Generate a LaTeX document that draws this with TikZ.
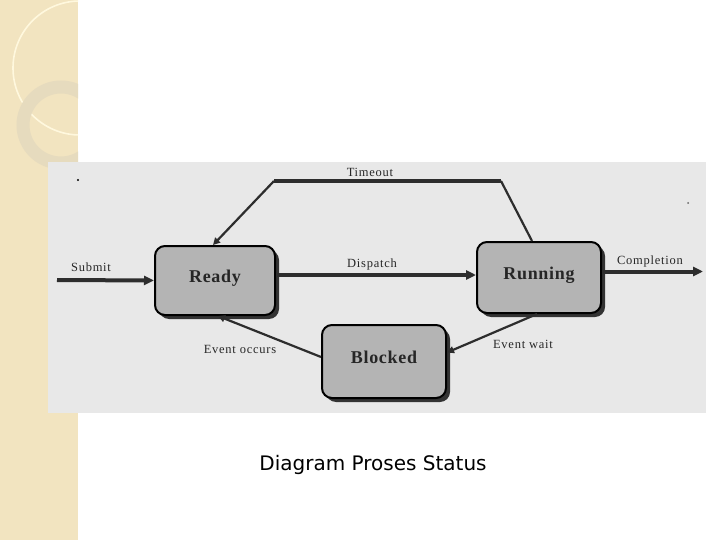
\documentclass[tikz,border=0pt]{standalone}
\usepackage{fontspec}
\setmainfont{Liberation Serif}
\newfontfamily\capfont{DejaVu Sans}
\newfontfamily\lblfont[LetterSpace=6]{Liberation Serif}
\newfontfamily\boxfont[LetterSpace=4]{Liberation Serif}
\usetikzlibrary{arrows.meta,shadows}
\definecolor{beige}{RGB}{242,228,192}
\definecolor{beigelight}{RGB}{246,236,210}
\definecolor{cream}{RGB}{255,248,222}
\definecolor{ringcol}{RGB}{230,219,190}
\definecolor{photo}{RGB}{232,232,232}
\definecolor{boxfill}{RGB}{180,180,180}
\definecolor{linecol}{RGB}{45,45,45}
\tikzset{
  statebox/.style={draw=black, line width=2pt, fill=boxfill, rounded corners=10pt,
    minimum width=#1, inner sep=0pt, text height=12pt, text depth=9pt,
    general shadow={fill=black!80, shadow xshift=4pt, shadow yshift=-4pt},
    font=\boxfont\fontsize{18}{18}\selectfont\bfseries, text=black!85},
  lbl/.style={font=\lblfont\fontsize{12.5}{12.5}\selectfont, inner sep=0pt, text=black!85},
  thickarrow/.style={draw=linecol, line width=4pt, -{Triangle[length=10pt,width=9pt]}},
  thinarrow/.style={draw=linecol, line width=2.2pt, -{Triangle[length=7pt,width=7pt]}},
  thinline/.style={draw=linecol, line width=2.2pt},
}
\begin{document}
\begin{tikzpicture}[x=1pt,y=-1pt]
\useasboundingbox (0,0) rectangle (720,540);
\fill[white] (0,0) rectangle (720,540);
% left decorative strip
\fill[beige] (0,0) rectangle (78,540);
\begin{scope}
  \clip (0,0) rectangle (78,540);
  \fill[beigelight] (0,0) -- (64,0) arc[start angle=0, end angle=90, x radius=64, y radius=-64] -- cycle;
  \draw[ringcol!80!black, line width=0.4pt] (64,0) arc[start angle=0, end angle=90, x radius=64, y radius=-64];
  \draw[cream, line width=1.6pt] (80,68) circle[radius=67];
  \draw[ringcol, line width=13pt] (61,125) circle[radius=38];
\end{scope}
% photo background
\fill[photo] (48,162) rectangle (706,413);
\fill[black] (78,180) circle[radius=1.2];
\fill[black!60] (688,203) circle[radius=1];
% states
\node[statebox=120pt, minimum height=69pt] (ready) at (215,280.5) {Ready};
\node[statebox=124pt, minimum height=71pt] (running) at (539,277.5) {Running};
\node[statebox=124pt, minimum height=73pt] (blocked) at (384,361.5) {Blocked};
% helper coordinates
\coordinate (submitstart) at (57,280);
\coordinate (complend) at (703,271.5);
\coordinate (tl) at (274,181);
\coordinate (tr) at (501,181);
% connectors
\draw[thickarrow] (submitstart) -- (ready.west);
\draw[thickarrow] ([yshift=5.5pt]ready.east) -- ([yshift=2.5pt]running.west);
\draw[thickarrow] ([yshift=6pt]running.east) -- (complend);
\draw[thinline] ([xshift=-7pt]running.north) -- (tr);
\draw[draw=linecol, line width=4.5pt] (tr) -- (tl);
\draw[thinarrow] (tl) -- ([xshift=-2pt]ready.north);
\draw[thinarrow] ([xshift=-2pt]running.south) -- ([yshift=9pt]blocked.east);
\draw[thinarrow] ([yshift=4.5pt]blocked.west) -- ([xshift=3pt]ready.south);
% labels
\node[lbl] (ltimeout) at (370,172) {Timeout};
\node[lbl] (lsubmit) at (91,267) {Submit};
\node[lbl] (ldispatch) at (372,264) {Dispatch};
\node[lbl] (lcompletion) at (650,261) {Completion};
\node[lbl] (lwait) at (523,344) {Event wait};
\node[lbl] (loccurs) at (240,349) {Event occurs};
% caption
\node[font=\capfont\fontsize{20}{20}\selectfont, inner sep=0pt] (caption) at (373,465) {Diagram Proses Status};
\end{tikzpicture}
\end{document}
